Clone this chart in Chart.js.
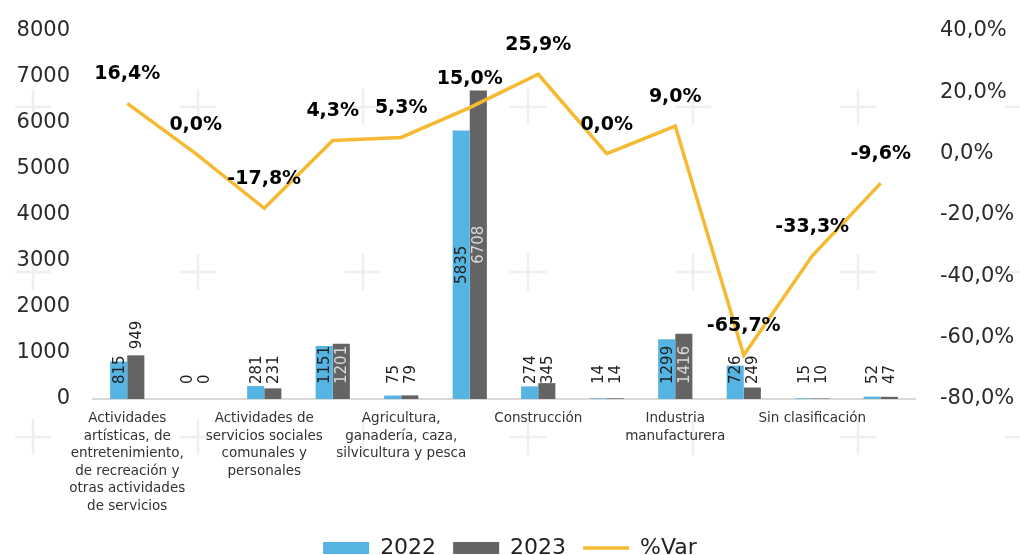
<!DOCTYPE html>
<html>
<head>
<meta charset="utf-8">
<script src="https://cdn.jsdelivr.net/npm/chart.js@4.4.0/dist/chart.umd.min.js"></script>
<style>
  html, body { margin: 0; padding: 0; background: #fff; overflow: hidden; }
  #wrap { width: 1020px; height: 575px; }
</style>
</head>
<body>
<div id="wrap"><canvas id="chart"></canvas></div>
<script>
// categories (odd ones are not shown on the axis in the original)
const categories = [
  ['Actividades', 'artísticas, de', 'entretenimiento,', 'de recreación y', 'otras actividades', 'de servicios'],
  'Actividades de los hogares como empleadores',
  ['Actividades de', 'servicios sociales', 'comunales y', 'personales'],
  'Actividades inmobiliarias, empresariales y de alquiler',
  ['Agricultura,', 'ganadería, caza,', 'silvicultura y pesca'],
  'Comercio, hoteles y restaurantes',
  ['Construcción'],
  'Electricidad, gas y agua',
  ['Industria', 'manufacturera'],
  'Intermediación financiera',
  ['Sin clasificación'],
  'Transporte, almacenamiento y comunicaciones'
];
const values2022 = [815, 0, 281, 1151, 75, 5835, 274, 14, 1299, 726, 15, 52];
const values2023 = [949, 0, 231, 1201, 79, 6708, 345, 14, 1416, 249, 10, 47];
const variation = [16.4, 0.0, -17.8, 4.3, 5.3, 15.0, 25.9, 0.0, 9.0, -65.7, -33.3, -9.6];
const leftTicks = [0, 1000, 2000, 3000, 4000, 5000, 6000, 7000, 8000];
const rightTicks = [-80, -60, -40, -20, 0, 20, 40];

const FONT = 'DejaVu Sans';
const fmtPct = v => v.toFixed(1).replace('.', ',') + '%';

// where a bar label sits: 'base' (default), 'end' (above the bar), 'center'
const labelPlacement = { '1-0': 'end', '0-5': 'center', '1-5': 'center' };

// faint cross watermark in the background
const crossBackground = {
  id: 'crossBackground',
  beforeDraw(chart) {
    const ctx = chart.ctx;
    ctx.save();
    ctx.strokeStyle = '#efefef';
    ctx.lineWidth = 2.5;
    for (let x = 33; x < chart.width + 20; x += 165) {
      for (let y = 107; y < chart.height + 20; y += 165) {
        ctx.beginPath();
        ctx.moveTo(x - 18, y); ctx.lineTo(x + 18, y);
        ctx.moveTo(x, y - 18); ctx.lineTo(x, y + 18);
        ctx.stroke();
      }
    }
    ctx.restore();
  }
};

const valueLabels = {
  id: 'valueLabels',
  afterDatasetsDraw(chart) {
    const ctx = chart.ctx;
    ctx.save();
    // bar labels, rotated
    ctx.font = `15px "${FONT}"`;
    [0, 1].forEach(di => {
      const meta = chart.getDatasetMeta(di);
      meta.data.forEach((bar, i) => {
        const text = String(chart.data.datasets[di].data[i]);
        const w = ctx.measureText(text).width;
        const place = labelPlacement[di + '-' + i] || 'base';
        let start;
        if (place === 'end') start = bar.y - 6;
        else if (place === 'center') start = (bar.y + bar.base) / 2 + w / 2;
        else start = bar.base - 15;
        const top = start - w;
        let color = '#222';
        if (di === 1 && top >= bar.y - 2) color = '#d9d9d9';
        ctx.save();
        ctx.translate(bar.x + 1, start);
        ctx.rotate(-Math.PI / 2);
        ctx.fillStyle = color;
        ctx.textAlign = 'left';
        ctx.textBaseline = 'middle';
        ctx.fillText(text, 0, 0);
        ctx.restore();
      });
    });
    // line labels
    const lineMeta = chart.getDatasetMeta(2);
    ctx.font = `bold 19px "${FONT}"`;
    ctx.fillStyle = '#000';
    ctx.textAlign = 'center';
    ctx.textBaseline = 'middle';
    lineMeta.data.forEach((pt, i) => {
      ctx.fillText(fmtPct(variation[i]), pt.x, pt.y - 29);
    });
    ctx.restore();
  }
};

const noVerticalPadding = scale => { scale.paddingTop = 0; scale.paddingBottom = 0; };

new Chart(document.getElementById('chart'), {
  type: 'bar',
  data: {
    labels: categories,
    datasets: [
      {
        label: '2022',
        data: values2022,
        backgroundColor: '#56b4e2',
        categoryPercentage: 0.5,
        barPercentage: 1.0,
        yAxisID: 'y',
        order: 2
      },
      {
        label: '2023',
        data: values2023,
        backgroundColor: '#646464',
        categoryPercentage: 0.5,
        barPercentage: 1.0,
        yAxisID: 'y',
        order: 2
      },
      {
        type: 'line',
        label: '%Var',
        data: variation,
        borderColor: '#f5b932',
        backgroundColor: '#f5b932',
        borderWidth: 3.5,
        pointRadius: 0,
        pointHoverRadius: 0,
        tension: 0,
        yAxisID: 'y1',
        order: 1
      }
    ]
  },
  options: {
    responsive: true,
    maintainAspectRatio: false,
    animation: false,
    events: [],
    layout: { padding: { top: 31, bottom: 6, left: 0, right: 0 } },
    plugins: {
      tooltip: { enabled: false },
      legend: {
        position: 'bottom',
        labels: {
          font: { family: FONT, size: 22 },
          color: '#222',
          usePointStyle: true,
          pointStyleWidth: 46,
          boxHeight: 12,
          padding: 17,
          sort: (a, b) => a.datasetIndex - b.datasetIndex,
          generateLabels(chart) {
            const items = Chart.defaults.plugins.legend.labels.generateLabels(chart);
            items.forEach(it => {
              const ds = chart.data.datasets[it.datasetIndex];
              if (ds.type === 'line') {
                it.pointStyle = 'line';
                it.strokeStyle = ds.borderColor;
                it.lineWidth = 3.5;
              } else {
                it.pointStyle = 'rect';
                it.lineWidth = 0;
                it.strokeStyle = ds.backgroundColor;
              }
            });
            return items;
          }
        }
      }
    },
    scales: {
      x: {
        grid: { display: false, drawTicks: false },
        border: { display: true, color: '#d9d9d9', width: 2 },
        ticks: {
          autoSkip: false,
          maxRotation: 0,
          padding: 11,
          color: '#333',
          font: { family: FONT, size: 13.5, lineHeight: 1.3 },
          callback(value, index) {
            return index % 2 === 0 ? categories[index] : '';
          }
        },
        afterFit(scale) { scale.height = 121; }
      },
      y: {
        position: 'left',
        min: 0,
        max: 8000,
        grid: { display: false, drawTicks: false },
        border: { display: false },
        afterBuildTicks(scale) { scale.ticks = leftTicks.map(v => ({ value: v })); },
        ticks: {
          padding: 23,
          color: '#2a2a2a',
          font: { family: FONT, size: 21 },
          callback: v => String(v)
        },
        afterFit(scale) { scale.width = 93; noVerticalPadding(scale); }
      },
      y1: {
        position: 'right',
        min: -80,
        max: 40,
        grid: { display: false, drawTicks: false },
        border: { display: false },
        afterBuildTicks(scale) { scale.ticks = rightTicks.map(v => ({ value: v })); },
        ticks: {
          padding: 25,
          color: '#2a2a2a',
          font: { family: FONT, size: 21 },
          callback: v => fmtPct(v)
        },
        afterFit(scale) { scale.width = 105; noVerticalPadding(scale); }
      }
    }
  },
  plugins: [crossBackground, valueLabels]
});
</script>
</body>
</html>
